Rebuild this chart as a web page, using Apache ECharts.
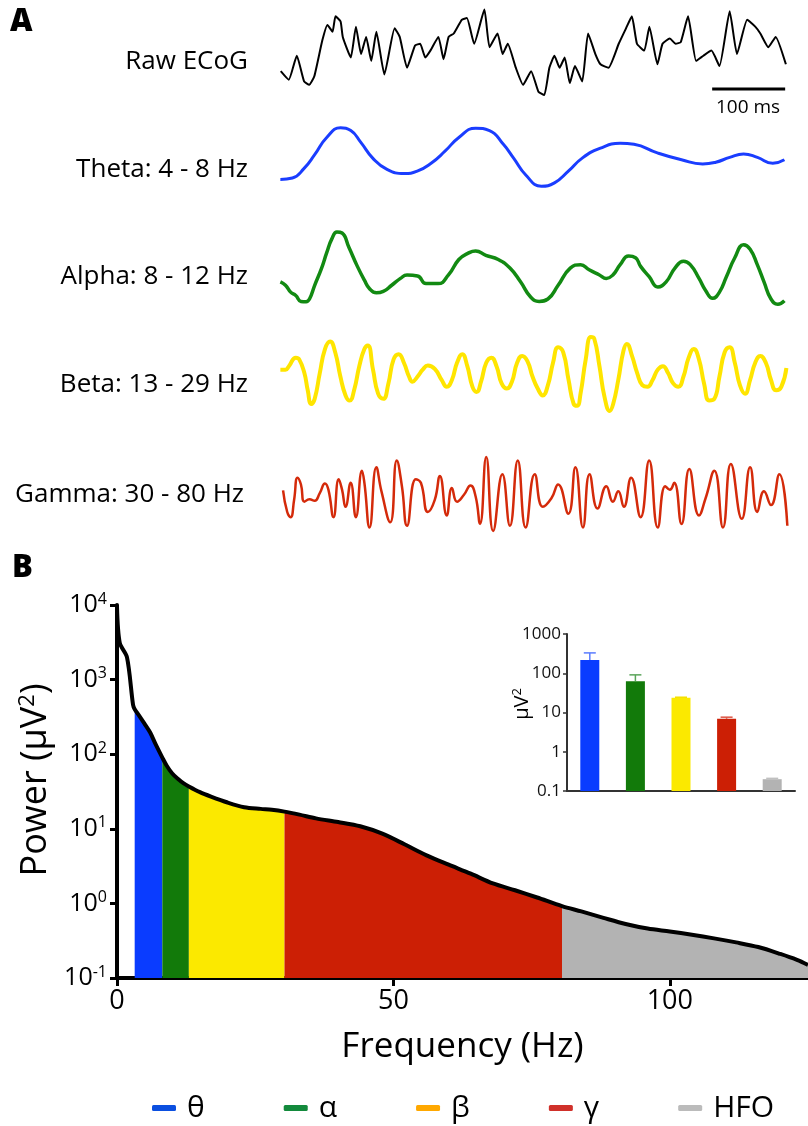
<!DOCTYPE html>
<html><head><meta charset="utf-8">
<script src="https://cdn.jsdelivr.net/npm/echarts@6/dist/echarts.min.js"></script>
<style>html,body{margin:0;padding:0;background:#fff}#c{width:808px;height:1126px}</style>
</head><body><div id="c"></div>
<script>
const FONT = "'Open Sans', Lato, 'DejaVu Sans', sans-serif";

// ---- Panel A traces: [time ms, amplitude a.u.] ----
const rawEcog = [[1,-5.3],[12,-7.8],[23,-0.8],[33,-8.3],[40,-9.3],[47,-6.8],[58,3.7],[65,8.2],[72,6.2],[76,10.7],[83,9.2],[86,4.7],[97,-1.3],[104,7.7],[111,-0.3],[118,4.7],[125,-2.3],[132,6.2],[143,-6.3],[157,7.2],[164,4.7],[174,-4.3],[185,2.2],[192,2.7],[199,-1.3],[206,0.7],[217,4.7],[224,-1.8],[231,4.7],[238,5.7],[249,9.7],[256,10.2],[266,2.7],[280,12.7],[287,1.7],[298,5.7],[305,-0.3],[312,2.7],[323,-4.3],[333,-9.3],[344,-5.3],[354,-11.3],[362,-12.3],[369,-4.3],[376,-0.8],[383,-4.3],[390,-1.3],[397,-8.8],[404,-3.8],[414,-8.3],[422,5.7],[432,-0.3],[439,-3.3],[450,-4.3],[464,2.7],[474,7.2],[482,10.7],[489,2.7],[499,0.7],[506,7.7],[517,-3.3],[524,2.7],[534,4.2],[542,2.7],[549,3.2],[559,10.7],[570,-2.3],[580,-0.8],[591,0.7],[602,-3.8],[616,12.2],[626,-0.3],[640,9.7],[651,7.7],[658,5.7],[669,1.7],[679,4.7],[693,-3.3]];
const theta = [[0.5,-7.1],[17,-6.7],[33,-3.9],[47.5,0.1],[64,5.1],[83,7.9],[97,7.1],[111,3.6],[127,-0.9],[146,-4.1],[170,-5.4],[188,-4.7],[207,-2.4],[226,1.1],[245,5.1],[268,7.8],[287,7.1],[306,3.1],[320,-0.9],[337,-5.9],[358,-9.1],[376,-8.1],[395,-4.7],[414,-0.9],[438,1.9],[466,3.4],[485,3.1],[517,0.6],[550,-1.4],[579,-2.6],[597,-2.1],[616,-0.7],[635,0.3],[654,-0.7],[675,-2.4],[691,-1.4]];
const alpha = [[0.5,-4.9],[7.5,-5.9],[14.6,-7.9],[21.6,-8.9],[28.7,-10.6],[35.7,-10.7],[40.4,-9.9],[47.5,-5.9],[57,-0.9],[64,3.6],[71,7.6],[78,9.6],[85,9.3],[94.5,5.1],[106,-0.4],[115.6,-4.4],[122.7,-6.9],[132,-8.1],[141.5,-7.7],[153,-5.9],[165,-3.9],[174,-2.9],[188.5,-3.2],[200,-5.4],[216.7,-5.4],[230.8,-2.9],[245,1.6],[256.6,3.3],[268,4.1],[282,2.8],[299,1.6],[315,-0.9],[329.5,-4.9],[343.6,-9.4],[355,-10.6],[367,-9.9],[381,-5.9],[397.6,-0.9],[411.7,0.1],[423.5,-1.4],[437.6,-2.9],[447,-3.9],[456,-2.9],[466,0.1],[477.5,2.6],[487,2.1],[494,-0.4],[505.7,-3.4],[517.5,-6.4],[529,-4.9],[541,-0.9],[552.7,1.1],[562,0.1],[574,-3.9],[583,-7.4],[592.7,-9.7],[602,-7.9],[611.5,-3.4],[623,2.1],[635,5.9],[644,4.6],[653.8,0.1],[663,-4.9],[672.6,-9.9],[682,-11.4],[691,-10.4]];
const beta = [[0.5,0.1],[7.5,0.1],[12.2,1.1],[21.6,3.6],[26.3,3.1],[33.4,-0.9],[38,-5.9],[42.8,-9.9],[47.5,-8.4],[54.5,-0.9],[61.6,6.1],[68.6,8.3],[75.7,5.1],[82.7,-1.9],[89.8,-7.4],[95.4,-8.9],[101.5,-5.9],[108.6,1.1],[115.6,6.1],[120.3,7.1],[127.4,0.1],[134.4,-6.9],[141.5,-8.4],[148.5,-3.9],[155.6,3.1],[162.6,4.6],[169.7,2.1],[176.7,-1.9],[181.4,-3.4],[188.5,-1.9],[195.5,0.1],[202.6,1.3],[212,0.3],[221.4,-2.9],[228.4,-4.9],[235.5,-2.9],[242.5,2.1],[249.6,4.6],[256.6,1.1],[263.7,-4.9],[269.3,-6.4],[275.4,-3.4],[282.5,2.1],[289.5,3.6],[296.6,1.1],[303.6,-3.9],[310.7,-5.4],[317.7,-3.4],[324.8,2.1],[331.8,4.1],[338.9,2.6],[345.9,-1.9],[353,-5.4],[360,-7.4],[367,-4.4],[374,2.1],[381,6.6],[388,5.1],[395.3,-2.9],[402.3,-9.9],[407,-10.4],[411.7,-6.9],[418.8,3.1],[425.8,9.6],[430.5,9.1],[437.6,1.1],[444.6,-7.9],[451.7,-11.9],[456.4,-9.9],[463.4,-2.9],[470.5,5.6],[475.2,7.6],[482.2,4.1],[489.3,-0.9],[496.3,-4.4],[503.4,-4.9],[510.4,-2.9],[517.5,0.1],[524.5,1.1],[531.6,-0.9],[538.6,-3.9],[545.7,-4.9],[552.7,-1.9],[559.8,3.6],[566.8,6.1],[573.9,3.1],[580.9,-3.9],[588,-8.9],[595,-8.4],[602,-1.9],[609,5.1],[616,6.6],[623,2.1],[630,-4.4],[637,-6.9],[644,-2.9],[651,2.1],[658,4.1],[665.5,2.1],[672.6,-2.9],[679.6,-5.9],[686.7,-4.9],[693.7,0.6]];
const gamma = [[4.2,-0.1],[9.9,-6.4],[14.6,-7.9],[19.3,-2.9],[24,3.6],[28.7,1.6],[33.4,-3.4],[40.4,-2.7],[47.5,-3.1],[54.5,-0.9],[61.6,1.9],[66.3,0.1],[73.3,-7.9],[80.4,3.1],[85,0.1],[89.8,-4.9],[96.8,2.1],[103.9,-7.9],[112.3,5.6],[115.6,2.1],[122.7,-10.9],[132,6.6],[139,-0.4],[151,-9.4],[160,8.6],[167,1.1],[174,-10.4],[186,3.1],[193,2.1],[202.6,-6.4],[212,-2.9],[219,4.1],[228.4,-7.4],[235.5,0.6],[242.5,-3.4],[252,-1.4],[261,1.3],[268,-1.9],[274,-9.9],[282.5,9.6],[292,-11.9],[304.6,4.6],[315,-10.4],[325.7,8.6],[336.5,-10.9],[349,4.6],[360,-4.9],[371.8,-2.4],[381,1.6],[395,-6.9],[404.7,6.6],[415,-10.9],[424,4.6],[435,-5.4],[447,1.1],[456,-3.4],[463.4,-0.4],[471,-4.9],[481,3.6],[494,-7.9],[505.7,8.6],[517.5,-10.9],[527.8,1.1],[534,0.1],[540,2.1],[550,-9.9],[560.7,6.1],[574,-7.4],[583,-2.4],[595,5.6],[606.8,-10.9],[617.6,7.6],[632.6,-8.4],[644,6.6],[653.8,-6.4],[663,-0.4],[672.6,-4.4],[684,4.6],[695,-10.4]];
const scaleBar = [[592,-10.5],[692,-10.5]];
const traceLabels = ['Raw ECoG','Theta: 4 - 8 Hz','Alpha: 8 - 12 Hz','Beta: 13 - 29 Hz','Gamma: 30 - 80 Hz'];

// ---- Panel B power spectrum: [Hz, µV²] ----
const spectrum = [[0,9500],[0.5,3100],[1.8,2000],[2.9,460],[3.2,400],[4,330],[5,255],[6,195],[7,135],[8.2,90],[9,70],[10,55],[11,47],[12,41],[13,37],[15,31],[17,27],[20,22.5],[23,19.5],[26,18.5],[28,18],[30.3,17],[33,15.5],[36,13.8],[40,12.3],[44,10.8],[48,8.6],[52,6.2],[56,4.4],[60,3.3],[64,2.5],[68,1.85],[72,1.5],[76,1.2],[80.5,0.92],[84,0.78],[88,0.64],[92,0.53],[96,0.46],[100,0.42],[104,0.38],[108,0.34],[112,0.3],[116,0.26],[120,0.21],[123,0.175],[125,0.15]];
const bandNames = ['θ','α','β','γ','HFO'];
const bandEdges = [3.2, 8.2, 13, 30.3, 80.5, 125];
const bandFill = ['#0a3cff','#127a0a','#fbe900','#cc1f05','#b3b3b3'];
const legendColors = ['#0b4fe0','#138a3c','#ffa800','#d0302a','#bbbbbb'];
const errColors = ['#5a7cff','#5aa55a','#f5e000','#dd5544','#c0c0c0'];
const insetValues = [218, 63, 23.6, 6.9, 0.2];
const insetErrTop = [330, 91, 24.5, 7.6, 0.21];
const xTicks = [0, 50, 100];

const chart = echarts.init(document.getElementById('c'), null, {renderer:'canvas'});

const traces = [rawEcog, theta, alpha, beta, gamma];
const traceColors = ['#000000','#1a3dff','#128a12','#ffe500','#d42a0a'];
const traceWidths = [2, 3, 3.5, 4, 2.5];
const traceSmooth = [0.15, 0.5, 0.5, 0.5, 0.5];
const traceGrids = [{top:8.5,h:89,r:13},{top:110,h:90,r:13.1},{top:220,h:90,r:13.1},{top:325,h:90,r:13.1},{top:445,h:90,r:13.1}];

const grid = traceGrids.map(g => ({left:280, width:511, top:g.top, height:g.h}));
grid.push({left:117, width:691, top:605, height:373});
grid.push({left:567, width:228, top:634, height:157});

const xAxis = traceGrids.map((g,i) => ({type:'value', gridIndex:i, min:0, max:700, show:false}));
const yAxis = traceGrids.map((g,i) => ({type:'value', gridIndex:i, min:-g.r, max:g.r, show:false}));

xAxis.push({type:'value', gridIndex:5, min:0, max:125, interval:50,
  axisLine:{show:true, onZero:false, lineStyle:{color:'#000', width:4}},
  axisTick:{show:true, length:8, lineStyle:{color:'#000', width:3}},
  axisLabel:{fontSize:27, color:'#000', fontFamily:FONT, margin:10, showMaxLabel:false, formatter: v => xTicks.includes(v) ? String(v) : ''},
  splitLine:{show:false},
  name:'Frequency (Hz)', nameLocation:'middle', nameGap:52,
  nameTextStyle:{fontSize:35, color:'#000', fontFamily:FONT}});
yAxis.push({type:'log', gridIndex:5, logBase:10, min:0.1, max:10000, offset:2,
  axisLine:{show:true, lineStyle:{color:'#000', width:4}},
  axisTick:{show:true, length:7, lineStyle:{color:'#000', width:3}},
  axisLabel:{color:'#000', margin:8, fontFamily:FONT,
    formatter: v => { const e = Math.round(Math.log10(v)); return '{b|10}{s|' + (e<0?'-':'') + Math.abs(e) + '}'; },
    rich:{b:{fontSize:25, fontFamily:FONT, color:'#000'}, s:{fontSize:16, fontFamily:FONT, color:'#000', verticalAlign:'top', lineHeight:28}}},
  splitLine:{show:false}});

xAxis.push({type:'category', gridIndex:6, data:bandNames,
  axisLine:{show:true, lineStyle:{color:'#333', width:2}}, axisTick:{show:false}, axisLabel:{show:false}});
yAxis.push({type:'log', gridIndex:6, logBase:10, min:0.1, max:1000,
  axisLine:{show:true, lineStyle:{color:'#333', width:2}},
  axisTick:{show:true, length:4, lineStyle:{color:'#333', width:1.5}},
  axisLabel:{fontSize:17, color:'#111', margin:6, fontFamily:FONT, formatter: v => v >= 1 ? String(Math.round(v)) : String(v)},
  splitLine:{show:false}});

const series = [];
traces.forEach((d,i) => series.push({type:'line', xAxisIndex:i, yAxisIndex:i, data:d, symbol:'none',
  smooth: traceSmooth[i], lineStyle:{color:traceColors[i], width:traceWidths[i], join:'round'}, silent:true}));
series.push({type:'line', xAxisIndex:0, yAxisIndex:0, data:scaleBar, symbol:'none', lineStyle:{color:'#000', width:3}, silent:true});

bandNames.forEach((n,i) => {
  const lo = bandEdges[i], hi = bandEdges[i+1];
  series.push({name:n, type:'line', xAxisIndex:5, yAxisIndex:5, data: spectrum.filter(p => p[0] >= lo && p[0] <= hi),
    symbol:'none', smooth:0.3, lineStyle:{width:0}, itemStyle:{color:legendColors[i]},
    areaStyle:{color:bandFill[i], opacity:1, origin:'start'}, silent:true, z:2});
});
series.push({type:'line', xAxisIndex:5, yAxisIndex:5, data:spectrum, symbol:'none', smooth:0.3,
  lineStyle:{color:'#000', width:4, join:'round'}, silent:true, z:5});

series.push({type:'custom', xAxisIndex:6, yAxisIndex:6, silent:true, encode:{x:0, y:1},
  data: insetValues.map((v,i) => [i, v]),
  renderItem: (params, api) => {
    const i = api.value(0);
    const base = api.coord([i, 0.1]);
    const top = api.coord([i, api.value(1)]);
    return {type:'rect', shape:{x: top[0]-9.5, y: top[1], width:19, height: base[1]-top[1]},
      style:{fill: bandFill[params.dataIndex]}};
  }});
series.push({type:'custom', xAxisIndex:6, yAxisIndex:6, silent:true, encode:{x:0, y:1},
  data: insetValues.map((v,i) => [i, v, insetErrTop[i]]),
  renderItem: (params, api) => {
    const i = api.value(0);
    const p0 = api.coord([i, api.value(1)]);
    const p1 = api.coord([i, api.value(2)]);
    const c = errColors[params.dataIndex];
    return {type:'group', children:[
      {type:'line', shape:{x1:p0[0], y1:p0[1], x2:p1[0], y2:p1[1]}, style:{stroke:c, lineWidth:1.5}},
      {type:'line', shape:{x1:p1[0]-6, y1:p1[1], x2:p1[0]+6, y2:p1[1]}, style:{stroke:c, lineWidth:1.5}}
    ]};
  }});

const traceLabelY = [62, 170, 277, 385, 495];
const graphic = [
  {type:'text', left:10, top:7, style:{text:'A', fontSize:31, fontWeight:800, fontFamily:FONT, fill:'#000'}},
  {type:'text', left:12, top:553, style:{text:'B', fontSize:31, fontWeight:800, fontFamily:FONT, fill:'#000'}},
  {type:'text', x:748, y:108, style:{text:'100 ms', fontSize:19, fontFamily:FONT, fill:'#000', align:'center', verticalAlign:'middle'}},
  {type:'text', x:36, y:780, rotation:Math.PI/2, style:{text:'{a|Power (μV}{s|2}{a|)}', align:'center', verticalAlign:'middle',
    rich:{a:{fontSize:36, fontFamily:FONT, fill:'#000'}, s:{fontSize:22, fontFamily:FONT, fill:'#000', verticalAlign:'top', lineHeight:39}}}},
  {type:'text', x:522, y:704, rotation:Math.PI/2, style:{text:'{a|μV}{s|2}', align:'center', verticalAlign:'middle',
    rich:{a:{fontSize:20, fontFamily:FONT, fill:'#000'}, s:{fontSize:13, fontFamily:FONT, fill:'#000', verticalAlign:'top', lineHeight:22}}}}
];
traceLabels.forEach((t,i) => graphic.push({type:'text', x: i === 4 ? 244 : 248, y: traceLabelY[i],
  style:{text:t, fontSize:26, fontFamily:FONT, fill:'#000', align:'right', verticalAlign:'middle'}}));

chart.setOption({
  animation:false,
  backgroundColor:'#fff',
  textStyle:{fontFamily:FONT},
  grid, xAxis, yAxis, series, graphic,
  legend:{top:1088, left:147, itemGap:79, itemWidth:24, itemHeight:6, icon:'roundRect',
    textStyle:{fontSize:30, color:'#000', fontFamily:FONT, padding:[0,0,0,6]},
    data: bandNames.map((n,i) => ({name:n, itemStyle:{color:legendColors[i]}, icon:'roundRect'}))}
});
</script></body></html>
